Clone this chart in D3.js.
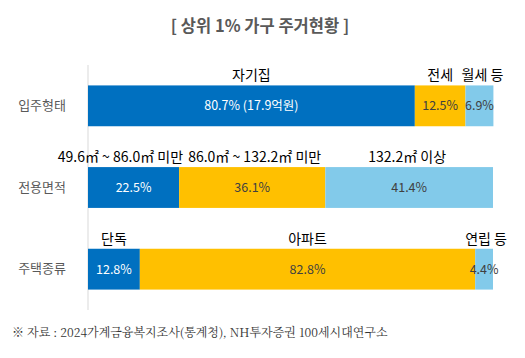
<!DOCTYPE html>
<html><head><meta charset="utf-8">
<script src="https://cdn.jsdelivr.net/npm/d3@7"></script>
<style>
body{margin:0;background:#fff;}
svg{display:block;}
</style></head>
<body>
<script>
const categories = ["입주형태", "전용면적", "주택종류"];
const segmentNames = [
  ["자기집", "전세", "월세 등"],
  ["49.6㎡ ~ 86.0㎡ 미만", "86.0㎡ ~ 132.2㎡ 미만", "132.2㎡ 이상"],
  ["단독", "아파트", "연립 등"]
];
const segmentValues = [
  [80.7, 12.5, 6.9],
  [22.5, 36.1, 41.4],
  [12.8, 82.8, 4.4]
];
const valueLabels = [
  ["80.7% (17.9억원)", "12.5%", "6.9%"],
  ["22.5%", "36.1%", "41.4%"],
  ["12.8%", "82.8%", "4.4%"]
];
const titleText = "[ 상위 1% 가구 주거현황 ]";
const sourceText = "※ 자료 : 2024가계금융복지조사(통계청), NH투자증권 100세시대연구소";

const W = 525, H = 358;
const colors = ["#0070C0", "#FFC000", "#82CAEA"];
const textColors = ["#ffffff", "#404040", "#404040"];
const font = "'Noto Sans CJK KR', 'Noto Sans', sans-serif";

// name-label placement (layout only): anchor mode per row/segment
const nameLayout = [
  [{a: "middle", dx: 0}, {a: "middle", dx: 0}, {a: "middle", dx: 3}],
  [{a: "end", at: "x1", dx: 4}, {a: "start", at: "x0", dx: 9}, {a: "middle", dx: -2}],
  [{a: "middle", dx: 0}, {a: "middle", dx: 0}, {a: "middle", dx: 2}]
];

const svg = d3.select("body").append("svg").attr("width", W).attr("height", H);

const x = d3.scaleLinear().domain([0, 100]).range([88, 493]);
const y = d3.scaleBand().domain(categories).range([65, 310]).paddingInner(0.5).paddingOuter(0.25);

// title
svg.append("text").attr("x", 260).attr("y", 32).attr("text-anchor", "middle")
  .attr("font-family", font).attr("font-size", 16.5).attr("font-weight", "bold")
  .attr("fill", "#595959").text(titleText);

// axis
const axis = d3.axisLeft(y).tickSize(0).tickPadding(22);
const ag = svg.append("g").attr("transform", `translate(${x(0)},0)`).call(axis);
ag.select(".domain").attr("stroke", "#d9d9d9").attr("d", `M0,65V310`);
ag.selectAll(".tick text").attr("font-family", font).attr("font-size", 13).attr("fill", "#595959");

categories.forEach((cat, i) => {
  const vals = segmentValues[i];
  let cum = 0;
  const segs = vals.map((v, j) => { const s = {x0: cum, x1: cum + v, j}; cum += v; return s; });
  const g = svg.append("g");
  g.selectAll("rect").data(segs).join("rect")
    .attr("x", d => x(d.x0)).attr("width", d => x(d.x1) - x(d.x0))
    .attr("y", y(cat)).attr("height", y.bandwidth())
    .attr("fill", d => colors[d.j]);
  g.selectAll("text.val").data(segs).join("text").attr("class", "val")
    .attr("x", d => (x(d.x0) + x(d.x1)) / 2)
    .attr("y", y(cat) + y.bandwidth() / 2 + 4.5)
    .attr("text-anchor", "middle").attr("font-family", font).attr("font-size", 12.5)
    .attr("fill", d => textColors[d.j]).text(d => valueLabels[i][d.j]);
  g.selectAll("text.name").data(segs).join("text").attr("class", "name")
    .attr("x", d => {
      const L = nameLayout[i][d.j];
      const base = L.at === "x1" ? x(d.x1) : L.at === "x0" ? x(d.x0) : (x(d.x0) + x(d.x1)) / 2;
      return base + L.dx;
    })
    .attr("y", y(cat) - 5)
    .attr("text-anchor", d => nameLayout[i][d.j].a).attr("font-family", font).attr("font-size", 14)
    .attr("fill", "#000").text(d => segmentNames[i][d.j]);
});

// source
svg.append("text").attr("x", 12).attr("y", 337)
  .attr("font-family", "'Noto Serif CJK KR', 'Liberation Serif', serif").attr("font-size", 12)
  .attr("fill", "#333").text(sourceText);
</script>
</body></html>
